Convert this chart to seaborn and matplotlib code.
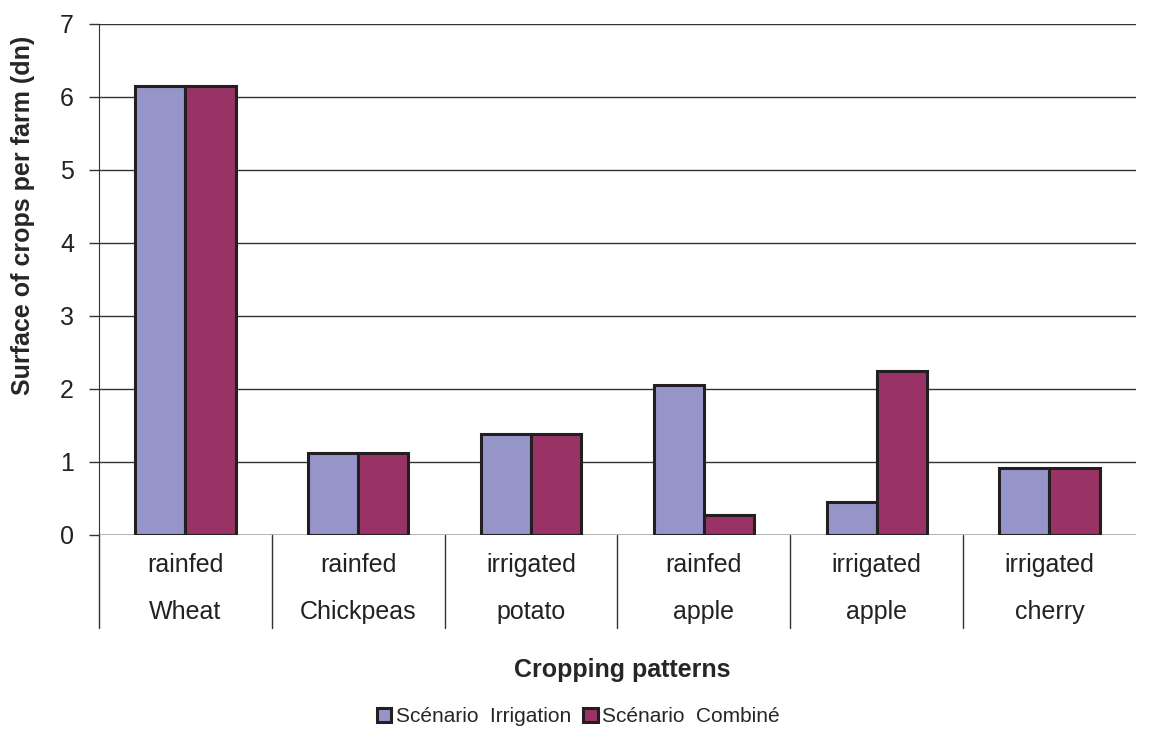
import numpy as np
import pandas as pd
import seaborn as sns
import matplotlib
matplotlib.use("Agg")
import matplotlib.pyplot as plt
import matplotlib.transforms as mtransforms

# chart data
crops = ["Wheat", "Chickpeas", "potato", "apple", "apple", "cherry"]
regimes = ["rainfed", "rainfed", "irrigated", "rainfed", "irrigated", "irrigated"]
irrigation = [6.15, 1.12, 1.38, 2.05, 0.45, 0.92]
combine = [6.15, 1.12, 1.38, 0.27, 2.25, 0.92]
series = ["Scénario  Irrigation", "Scénario  Combiné"]

keys = [f"{r}\n{c}" for r, c in zip(regimes, crops)]
df = pd.DataFrame({
    "pattern": keys * 2,
    "scenario": [series[0]] * len(keys) + [series[1]] * len(keys),
    "value": irrigation + combine,
})

sns.set_style("white")
plt.rcParams["font.family"] = ["Liberation Sans", "DejaVu Sans"]

fig = plt.figure(figsize=(11.52, 7.49), dpi=100)
ax = fig.add_axes([0.086, 0.286, 0.9, 0.682])

sns.barplot(data=df, x="pattern", y="value", hue="scenario", order=keys,
            palette=["#9595C9", "#993366"], width=0.58, ax=ax,
            edgecolor="#231F20", linewidth=2.2, saturation=1, legend=True)

ax.set_ylim(0, 7)
ax.set_xlim(-0.5, len(keys) - 0.5)
ax.set_yticks(range(0, 8))
ax.yaxis.grid(True, color="#333333", linewidth=1)
ax.set_axisbelow(True)
for s in ["top", "right", "bottom"]:
    ax.spines[s].set_visible(False)
ax.spines["left"].set_color("#333333")
ax.axhline(0, color="#333333", linewidth=1, zorder=0.5)
ax.tick_params(axis="y", left=True, length=7, width=1, color="#333333",
               labelsize=18, pad=11, labelcolor="#222222")

# multi-level category labels
ax.set_xticks([])
ax.set_xlabel("")
trans = mtransforms.blended_transform_factory(ax.transData, ax.transAxes)
for i, (r, c) in enumerate(zip(regimes, crops)):
    ax.text(i, -0.06, r, transform=trans, ha="center", va="center", fontsize=18, color="#222222")
    ax.text(i, -0.152, c, transform=trans, ha="center", va="center", fontsize=18, color="#222222")
for b in np.arange(-0.5, len(keys) - 1):
    ax.plot([b, b], [0, -0.182], transform=trans, color="#333333", lw=1, clip_on=False)

ax.set_ylabel("Surface of crops per farm (dn)", fontsize=18, fontweight="bold")
ax.yaxis.set_label_coords(-0.062, 0.626)
fig.text(0.54, 0.105, "Cropping patterns", ha="center", va="center", fontsize=18, fontweight="bold")

handles, labels = ax.get_legend_handles_labels()
ax.legend(handles, labels, loc="center", bbox_to_anchor=(0.502, 0.043), bbox_transform=fig.transFigure,
          ncol=2, frameon=False, fontsize=15, handlelength=0.7, handleheight=0.7,
          handletextpad=0.2, columnspacing=0.6)

fig.savefig("out.png", dpi=100)
